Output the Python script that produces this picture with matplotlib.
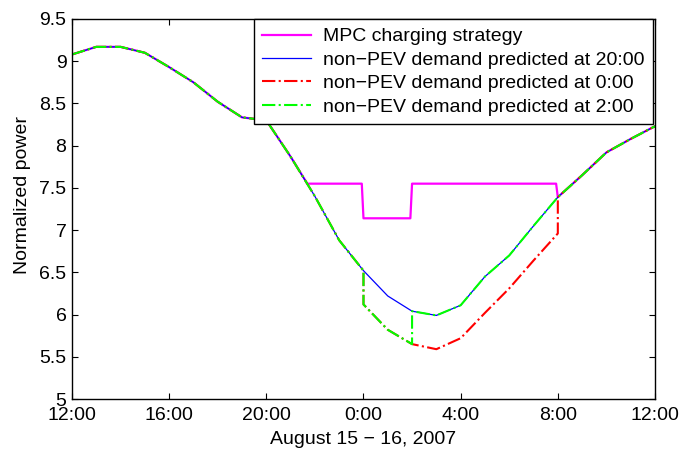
import matplotlib
matplotlib.use('Agg')
import matplotlib.pyplot as plt
from matplotlib.ticker import FuncFormatter

plt.rcParams['font.family'] = ['Liberation Sans', 'DejaVu Sans']

# time axis: hours after 12:00 on Aug 15
hours = [0, 1, 2, 3, 4, 5, 6, 7, 8, 9, 10, 11, 12,
         13, 14, 15, 16, 17, 18, 19, 20, 21, 22, 23, 24]
# non-PEV demand predicted at 20:00
pred_20 = [9.08, 9.17, 9.17, 9.10, 8.93, 8.75, 8.52, 8.335, 8.30, 7.87, 7.40, 6.88, 6.52,
           6.22, 6.04, 5.99, 6.11, 6.45, 6.70, 7.05, 7.39, 7.65, 7.92, 8.08, 8.23]

# predicted at 0:00 (differs from 0:00 to 8:00)
pred_0_hours = [12, 13, 14, 15, 16, 17, 18, 19, 20]
pred_0_vals = [6.12, 5.82, 5.65, 5.59, 5.72, 6.02, 6.31, 6.64, 6.96]

# predicted at 2:00 (differs from 0:00 to 2:00)
pred_2_hours = [12, 13, 14]
pred_2_vals = [6.12, 5.82, 5.65]

# MPC charging strategy (flat part of the valley fill)
mpc_hours = [9.69, 11.93, 12.0, 13.93, 14.0, 19.93]
mpc_vals = [7.55, 7.55, 7.14, 7.14, 7.55, 7.55]

xtick_pos = [0, 4, 8, 12, 16, 20, 24]
xtick_labels = ['12:00', '16:00', '20:00', '0:00', '4:00', '8:00', '12:00']

# assemble full series
red_x = hours[:13] + pred_0_hours + hours[20:]
red_y = pred_20[:13] + pred_0_vals + pred_20[20:]
green_x = hours[:13] + pred_2_hours + hours[14:]
green_y = pred_20[:13] + pred_2_vals + pred_20[14:]
mag_x = hours[:10] + mpc_hours + hours[20:]
mag_y = pred_20[:10] + mpc_vals + pred_20[20:]

fig = plt.figure(figsize=(6.81, 4.5), dpi=100)
ax = fig.add_axes([0.1057, 0.1133, 0.8561, 0.8445])

ax.plot(mag_x, mag_y, color='#ff00ff', lw=1.6, label='MPC charging strategy')
ax.plot(hours, pred_20, color='#0000ff', lw=0.9, label='non\u2212PEV demand predicted at 20:00')
ax.plot(red_x, red_y, color='#ff0000', lw=1.5, ls='-.', label='non\u2212PEV demand predicted at 0:00')
ax.plot(green_x, green_y, color='#00ff00', lw=1.5, ls='-.', label='non\u2212PEV demand predicted at 2:00')

ax.set_xlim(0, 24)
ax.set_ylim(5, 9.5)
ax.set_xticks(xtick_pos)
ax.set_xticklabels(xtick_labels)
ax.set_yticks([5 + 0.5 * i for i in range(10)])
ax.yaxis.set_major_formatter(FuncFormatter(lambda v, p: '%g' % v))
ax.tick_params(direction='in', top=True, right=True, length=4, width=0.8,
               labelsize=14, colors='black')
ax.tick_params(axis='x', pad=5.5)
ax.tick_params(axis='y', pad=4)
for s in ax.spines.values():
    s.set_linewidth(1.0)

ax.set_xlabel('August 15 \u2212 16, 2007', fontsize=14, labelpad=5)
ax.set_ylabel('Normalized power', fontsize=14)
ax.yaxis.set_label_coords(-0.07, 0.537)

leg = ax.legend(loc='upper right', bbox_to_anchor=(0.9966, 1.0), fontsize=14,
                frameon=True, fancybox=False, edgecolor='black', framealpha=1,
                handlelength=2.5, handletextpad=0.6, labelspacing=0.3,
                borderpad=0.45, borderaxespad=0)
leg.get_frame().set_linewidth(1.0)

fig.savefig('out.png', dpi=100)
